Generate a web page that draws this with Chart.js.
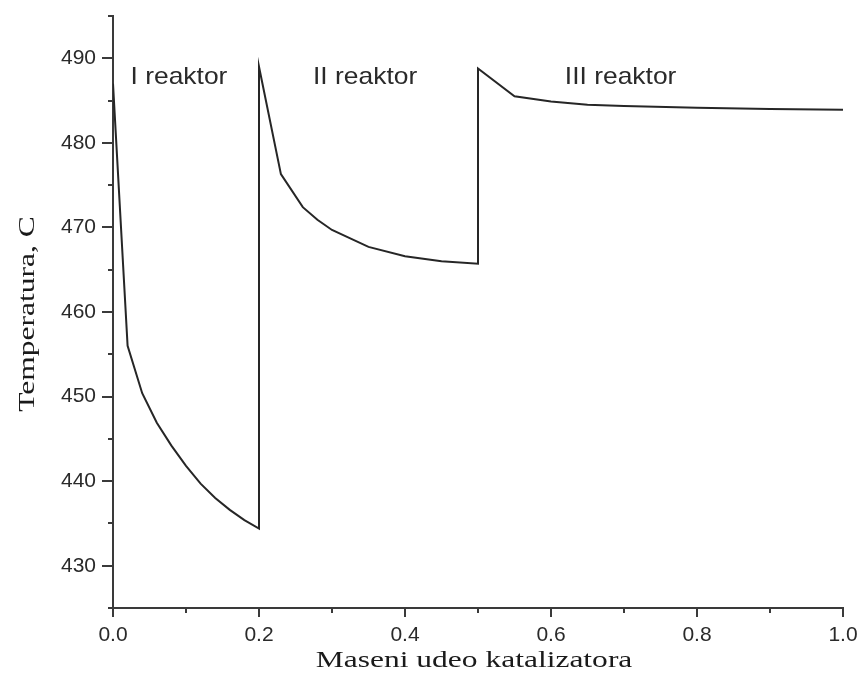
<!DOCTYPE html>
<html>
<head>
<meta charset="utf-8">
<title>Temperatura po reaktorima</title>
<script src="https://cdn.jsdelivr.net/npm/chart.js@4.4.1/dist/chart.umd.min.js"></script>
<style>
  html, body { margin: 0; padding: 0; background: #ffffff; }
  #wrap { width: 860px; height: 682px; }
</style>
</head>
<body>
<div id="wrap"><canvas id="chart" width="860" height="682"></canvas></div>
<script>
// Maseni udeo katalizatora (x) i temperatura u °C (y) kroz tri reaktora
const catalystFraction = [
  0.00, 0.02, 0.04, 0.06, 0.08, 0.10, 0.12, 0.14, 0.16, 0.18, 0.20,
  0.20, 0.23, 0.26, 0.28, 0.30, 0.35, 0.40, 0.45, 0.50,
  0.50, 0.55, 0.60, 0.65, 0.70, 0.80, 0.90, 1.00
];
const temperature = [
  487.0, 456.0, 450.4, 446.9, 444.2, 441.8, 439.7, 438.0, 436.6, 435.4, 434.4,
  489.0, 476.3, 472.4, 470.9, 469.7, 467.7, 466.6, 466.0, 465.7,
  488.8, 485.5, 484.9, 484.5, 484.35, 484.15, 484.0, 483.9
];

// Oznake reaktora: tekst, početak na x osi, visina na y osi
const reactorNames = ['I reaktor', 'II reaktor', 'III reaktor'];
const reactorLabelX = [0.024, 0.274, 0.619];
const reactorLabelY = [487.8, 487.8, 487.8];

// Podeoci osa
const xMajorTicks = [0.0, 0.2, 0.4, 0.6, 0.8, 1.0];
const xMinorTicks = [0.1, 0.3, 0.5, 0.7, 0.9];
const yMajorTicks = [430, 440, 450, 460, 470, 480, 490];
const yMinorTicks = [425, 435, 445, 455, 465, 475, 485, 495];

const xTitle = 'Maseni udeo katalizatora';
const yTitle = 'Temperatura, C';

const points = catalystFraction.map((x, i) => ({ x: x, y: temperature[i] }));

const AXIS_COLOR = '#3a3a3a';

// Crta spoljašnje podeoke (glavne i pomoćne) na obe ose
const tickMarks = {
  id: 'tickMarks',
  afterDraw(chart) {
    const { ctx, chartArea, scales } = chart;
    ctx.save();
    ctx.strokeStyle = AXIS_COLOR;
    ctx.lineWidth = 2;
    ctx.beginPath();
    xMajorTicks.forEach(v => {
      const px = Math.round(scales.x.getPixelForValue(v));
      ctx.moveTo(px, chartArea.bottom); ctx.lineTo(px, chartArea.bottom + 9);
    });
    xMinorTicks.forEach(v => {
      const px = Math.round(scales.x.getPixelForValue(v));
      ctx.moveTo(px, chartArea.bottom); ctx.lineTo(px, chartArea.bottom + 5);
    });
    yMajorTicks.forEach(v => {
      const py = Math.round(scales.y.getPixelForValue(v));
      ctx.moveTo(chartArea.left, py); ctx.lineTo(chartArea.left - 11, py);
    });
    yMinorTicks.forEach(v => {
      const py = Math.round(scales.y.getPixelForValue(v));
      ctx.moveTo(chartArea.left, py); ctx.lineTo(chartArea.left - 5, py);
    });
    ctx.stroke();
    ctx.restore();
  }
};

// Naslovi osa i oznake reaktora, razvučeni po širini
function stretchedText(ctx, text, x, y, font, stretch, align, rotate) {
  ctx.save();
  ctx.translate(x, y);
  if (rotate) ctx.rotate(rotate);
  ctx.scale(stretch, 1);
  ctx.font = font;
  ctx.textAlign = align;
  ctx.textBaseline = 'middle';
  ctx.fillText(text, 0, 0);
  ctx.restore();
}

const chartTexts = {
  id: 'chartTexts',
  afterDraw(chart) {
    const { ctx, chartArea, scales } = chart;
    ctx.save();
    ctx.fillStyle = '#1a1a1a';
    stretchedText(ctx, xTitle, 474, chartArea.bottom + 53,
      '23px "Liberation Serif", "Times New Roman", serif', 1.37, 'center', 0);
    stretchedText(ctx, yTitle, 28, 314,
      '23px "Liberation Serif", "Times New Roman", serif', 1.37, 'center', -Math.PI / 2);
    ctx.fillStyle = '#2a2a2a';
    reactorNames.forEach((name, i) => {
      stretchedText(ctx, name, scales.x.getPixelForValue(reactorLabelX[i]),
        scales.y.getPixelForValue(reactorLabelY[i]),
        '24px "Liberation Sans", Arial, sans-serif', 1.1, 'left', 0);
    });
    ctx.restore();
  }
};

new Chart(document.getElementById('chart'), {
  type: 'line',
  data: {
    datasets: [{
      data: points,
      borderColor: '#262626',
      borderWidth: 2,
      pointRadius: 0,
      tension: 0,
      fill: false
    }]
  },
  options: {
    responsive: false,
    animation: false,
    layout: { autoPadding: false, padding: { top: 16, right: 17, left: 0, bottom: 0 } },
    plugins: { legend: { display: false }, tooltip: { enabled: false } },
    scales: {
      x: {
        type: 'linear',
        min: 0,
        max: 1,
        afterBuildTicks(scale) { scale.ticks = xMajorTicks.map(v => ({ value: v })); },
        afterFit(scale) {
          scale.height = 74;
          scale.paddingLeft = 0;
          scale.paddingRight = 0;
        },
        grid: { display: false, drawTicks: false },
        border: { display: true, color: AXIS_COLOR, width: 2 },
        ticks: {
          padding: 15,
          color: '#2a2a2a',
          font: { family: '"Liberation Sans", Arial, sans-serif', size: 21 },
          maxRotation: 0,
          callback: v => Number(v).toFixed(1)
        }
      },
      y: {
        type: 'linear',
        min: 425,
        max: 495,
        afterBuildTicks(scale) { scale.ticks = yMajorTicks.map(v => ({ value: v })); },
        afterFit(scale) {
          scale.width = 113;
          scale.paddingTop = 0;
          scale.paddingBottom = 0;
        },
        grid: { display: false, drawTicks: false },
        border: { display: true, color: AXIS_COLOR, width: 2 },
        ticks: {
          padding: 17,
          color: '#2a2a2a',
          font: { family: '"Liberation Sans", Arial, sans-serif', size: 21 },
          callback: v => String(v)
        }
      }
    }
  },
  plugins: [tickMarks, chartTexts]
});
</script>
</body>
</html>
